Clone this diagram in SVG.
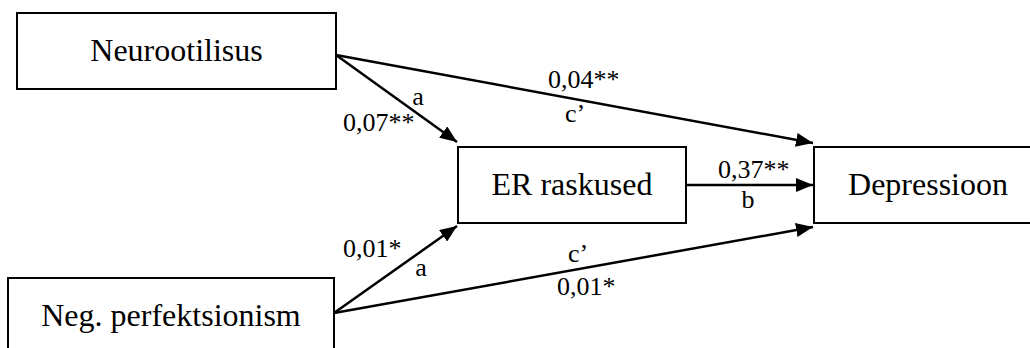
<svg xmlns="http://www.w3.org/2000/svg" width="1030" height="348" viewBox="0 0 1030 348">
<style>
.box{fill:#fff;stroke:#000;stroke-width:2}
.t{font-size:32px;fill:#000;text-anchor:middle}
.l{font-size:26px;fill:#000}
.c{stroke:#000;stroke-width:2.5;fill:none;marker-end:url(#ah)}
</style>
<defs>
<marker id="ah" markerUnits="userSpaceOnUse" markerWidth="18" markerHeight="14" refX="17" refY="7" orient="auto">
<path d="M0,0 L17,7 L0,14 z" fill="#000"/>
</marker>
</defs>
<rect width="1030" height="348" fill="#fff"/>
<g id="connectors">
<line class="c" x1="336" y1="55" x2="457" y2="142"/>
<line class="c" x1="336" y1="55" x2="813" y2="143"/>
<line class="c" x1="686" y1="185" x2="813" y2="185"/>
<line class="c" x1="334" y1="313" x2="457" y2="226"/>
<line class="c" x1="334" y1="313" x2="813" y2="227"/>
</g>
<g id="labels" font-family="Liberation Serif, Times New Roman, serif">
<text class="l" x="343" y="131">0,07**</text>
<text class="l" x="418" y="105" text-anchor="middle">a</text>
<text class="l" x="548" y="88">0,04**</text>
<text class="l" x="575" y="122" text-anchor="middle">c’</text>
<text class="l" x="718" y="178">0,37**</text>
<text class="l" x="748" y="208" text-anchor="middle">b</text>
<text class="l" x="343" y="257">0,01*</text>
<text class="l" x="421" y="276" text-anchor="middle">a</text>
<text class="l" x="578" y="262" text-anchor="middle">c’</text>
<text class="l" x="557" y="295">0,01*</text>
</g>
<g id="neurootilisus" font-family="Liberation Serif, Times New Roman, serif">
<rect class="box" x="17" y="13" width="319" height="76"/>
<text class="t" x="176.5" y="61">Neurootilisus</text>
</g>
<g id="er" font-family="Liberation Serif, Times New Roman, serif">
<rect class="box" x="458" y="147" width="228" height="76"/>
<text class="t" x="572" y="195">ER raskused</text>
</g>
<g id="depressioon" font-family="Liberation Serif, Times New Roman, serif">
<rect class="box" x="814" y="147" width="228" height="76"/>
<text class="t" x="928" y="195">Depressioon</text>
</g>
<g id="negperf" font-family="Liberation Serif, Times New Roman, serif">
<rect class="box" x="8" y="278" width="326" height="76"/>
<text class="t" x="171" y="326">Neg. perfektsionism</text>
</g>
</svg>
